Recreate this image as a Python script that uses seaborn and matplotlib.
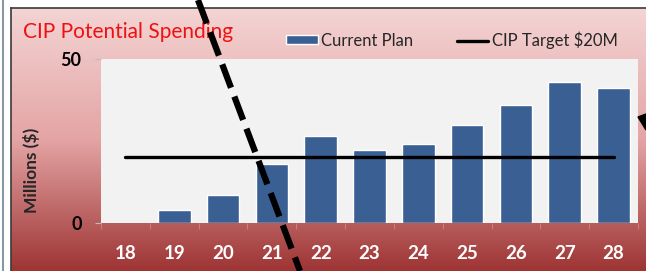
import numpy as np
import matplotlib.pyplot as plt
import seaborn as sns
from matplotlib.colors import LinearSegmentedColormap
from matplotlib.lines import Line2D
from matplotlib.patches import Polygon

# data
years = ["18", "19", "20", "21", "22", "23", "24", "25", "26", "27", "28"]
current_plan = [0.0, 4.0, 8.5, 18.0, 26.6, 22.4, 24.0, 30.0, 36.0, 43.1, 41.2]
cip_target = [20, 20, 20, 20, 20, 20, 20, 20, 20, 20, 20]
y_ticks = [0, 50]

sns.set_style("white")
plt.rcParams['font.family'] = ['Lato', 'DejaVu Sans']

W, H = 646, 271
fig = plt.figure(figsize=(W / 100, H / 100), dpi=100)

# red gradient frame behind the chart
bg = fig.add_axes([11 / W, 0, 1 - 11 / W, (H - 8) / H])
grad_cmap = LinearSegmentedColormap.from_list("frame", ["#f4d4d4", "#e4a4a4", "#9e3434"])
bg.imshow(np.linspace(0, 1, 256).reshape(-1, 1), cmap=grad_cmap, aspect="auto", extent=[0, 1, 0, 1])
bg.set_xticks([])
bg.set_yticks([])
for s in bg.spines.values():
    s.set_color("#3a3a3a")
    s.set_linewidth(1.2)
bg.spines["bottom"].set_visible(False)
bg.spines["right"].set_visible(False)

ax = fig.add_axes([101 / W, (H - 223) / H, (638 - 101) / W, (223 - 59) / H])
ax.set_facecolor("#f2f2f2")

sns.barplot(x=years, y=current_plan, color="#3a5f93", saturation=1, width=0.67,
            ax=ax, label="Current Plan")
sns.lineplot(x=np.arange(len(years)), y=cip_target, color="black", linewidth=2.4,
             ax=ax, label="CIP Target $20M")

ax.set_xlim(-0.5, len(years) - 0.5)
ax.set_ylim(0, 50)
ax.set_yticks(y_ticks)
ax.set_xticks(np.arange(len(years) + 1) - 0.5, minor=True)
ax.set_xlabel("")
ax.set_ylabel("")
for s in ax.spines.values():
    s.set_visible(False)
ax.tick_params(axis="x", which="major", length=0, pad=16, labelsize=13.5, labelcolor="white")
ax.tick_params(axis="x", which="minor", bottom=True, length=4, color="#c98a8a")
ax.tick_params(axis="y", left=True, length=4, color="#bbbbbb", pad=10, labelsize=13, labelcolor="black")
for lbl in ax.get_xticklabels() + ax.get_yticklabels():
    lbl.set_fontweight("bold")

handles, labels = ax.get_legend_handles_labels()
order = [labels.index("Current Plan"), labels.index("CIP Target $20M")]
ax.legend([handles[i] for i in order], [labels[i] for i in order],
          loc="center", bbox_to_anchor=(452 / W, 1 - 40 / H), bbox_transform=fig.transFigure,
          ncol=2, frameon=False, fontsize=12, handlelength=1.9, handleheight=0.45,
          handletextpad=0.2, columnspacing=2.6, borderaxespad=0)

fig.text(23 / W, 1 - 38 / H, "CIP Potential Spending", color="#ee1111", fontsize=15,
         ha="left", va="baseline")
fig.text(32 / W, 1 - 170 / H, "Millions ($)", rotation=90, fontsize=12.5, fontweight="bold",
         ha="center", va="center")

# overlay marks on the slide
fig.add_artist(Line2D([3 / W, 3 / W], [0, 1], color="#8a96a4", linewidth=1.5))
fig.add_artist(Line2D([198 / W, 300 / W], [1, 0], color="black", linewidth=4.5,
                      linestyle=(0, (4, 1.5)), zorder=10))
fig.add_artist(Polygon([[638 / W, 1 - 117 / H], [1, 1 - 114 / H], [1, 1 - 130 / H]],
                       closed=True, color="black", zorder=10))

fig.savefig("out.png", dpi=100)
